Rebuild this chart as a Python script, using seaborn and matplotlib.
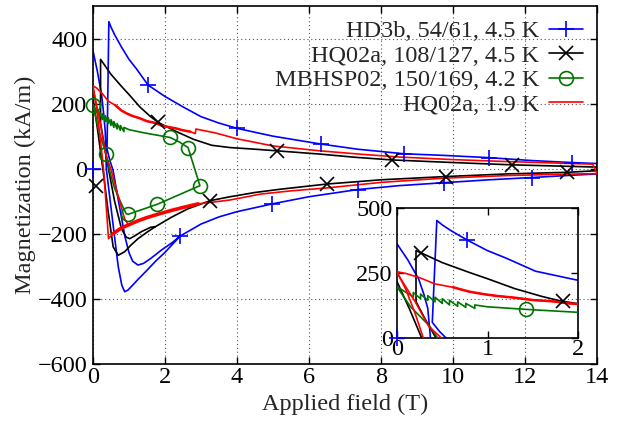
import matplotlib
matplotlib.use("Agg")
import matplotlib.pyplot as plt
from matplotlib.lines import Line2D
import seaborn as sns

# field in T, magnetization in kA/m

# HD3b, 54/61, 4.5 K : up ramp, return ramp with flux jump, second up ramp
hd3b_field = [0.00, 0.12, 0.24, 0.30, 0.34, 0.37, 0.55, 0.70, 0.80, 0.88, 0.97, 1.10, 1.25, 1.50, 1.73,
              2.00, 2.42, 3.00, 3.50, 4.00, 4.98, 6.00, 7.35, 8.50, 9.74, 11.0, 12.2, 13.3, 14.0,
              14.0, 13.3, 12.2, 11.0, 9.74, 8.63, 7.35, 6.32, 5.00, 4.00, 3.48, 3.00, 2.50, 2.00, 1.53,
              1.20, 1.00, 0.79, 0.60, 0.50, 0.44,
              0.39, 0.47, 0.56, 0.70, 0.89, 1.00, 1.10, 1.25, 1.40, 1.60, 1.90, 2.20, 2.42]
hd3b_mag = [362, 300, 226, 165, 114, 0, -165, -300, -358, -378, -373, -358, -340, -312, -285,
            -257, -207, -170, -148, -132, -108, -86, -64, -52, -43, -34, -27, -20, -16,
            16, 19, 25, 34, 41, 46, 60, 76, 100, 124, 141, 160, 190, 222, 257,
            308, 336, 374, 412, 435, 452,
            60, 25, -6, -95, -210, -258, -284, -296, -291, -276, -250, -227, -207]

# HQ02a, 108/127, 4.5 K
hq45_field = [0.00, 0.14, 0.28, 0.42, 0.56, 0.70, 0.88, 1.05, 1.25, 1.50, 1.72, 2.18, 2.64, 3.26,
              3.81, 4.50, 5.20, 6.50, 8.00, 9.80, 11.5, 13.18, 14.0,
              14.0, 13.0, 11.63, 10.0, 8.31, 7.30, 6.30, 5.11, 4.50, 3.81, 3.30, 2.80, 2.30, 1.80,
              1.60, 1.30, 1.00, 0.80, 0.50, 0.30, 0.21,
              0.21, 0.30, 0.44, 0.60, 0.79, 0.92, 1.02, 1.15, 1.35, 1.60, 1.72]
hq45_mag = [217, 110, -6, -130, -240, -266, -255, -235, -215, -195, -179, -149, -123, -98,
            -86, -73, -63, -47, -34, -24, -16, -11, -6,
            5, 8, 12, 19, 27, 35, 45, 55, 60, 65, 72, 90, 115, 143,
            160, 190, 228, 252, 290, 322, 336,
            140, 80, -6, -100, -184, -210, -215, -207, -193, -180, -178]

# MBHSP02, 150/169, 4.2 K (loop to 3 T, flux jumps on the way down)
mbhsp_field = [0.00, 0.15, 0.36, 0.46, 0.60, 0.79, 0.92, 0.98, 1.79, 2.97, 2.64, 2.40, 2.14, 1.43, 1.00,
               0.86, 0.86, 0.76, 0.76, 0.67, 0.67, 0.58, 0.58, 0.50, 0.50, 0.42, 0.42,
               0.34, 0.34, 0.26, 0.26, 0.18, 0.18, 0.08, 0.00]
mbhsp_mag = [197, 120, 46, -6, -60, -108, -138, -140, -109, -52, 65, 82, 96, 110, 120,
             127, 114, 133, 118, 139, 122, 145, 127, 151, 133, 157, 139,
             163, 145, 169, 151, 175, 158, 180, 197]

# HQ02a, 1.9 K
hq19_field = [0.00, 0.10, 0.20, 0.30, 0.37, 0.43,
              0.55, 0.79, 1.00, 1.25, 1.50, 1.80, 2.18, 2.50, 2.92,
              3.30, 3.81, 4.65, 5.50, 6.50, 8.00, 9.74, 11.5, 13.0, 14.0,
              13.88, 13.0, 11.5, 10.0, 8.50, 7.50, 6.30, 5.00, 4.00, 3.40, 2.86,
              2.84, 2.70, 2.50, 2.30, 2.10, 1.90, 1.72, 1.50, 1.30, 1.10, 0.97, 0.80, 0.62,
              0.42, 0.25, 0.10, 0.00]
hq19_mag = [255, 185, 95, -10, -120, -215,
            -200, -182, -172, -160, -150, -140, -128, -119, -108,
            -103, -96, -78, -68, -59, -42, -29, -21, -17, -15,
            14, 17, 22, 28, 36, 44, 55, 70, 92, 110, 122,
            108, 114, 118, 124, 128, 133, 141, 146, 155, 162, 168, 178, 195,
            208, 232, 248, 255]
hq19_inner_field = [0.00, 0.20, 0.35, 0.51, 0.70, 0.88, 0.96]
hq19_inner_mag = [250, 140, 45, -6, -85, -155, -168]

# symbols drawn on the main plot
hd3b_pts_field = [0.0, 1.53, 4.0, 6.32, 8.63, 11.0, 13.3, 2.42, 4.98, 7.35, 9.74, 12.2]
hd3b_pts_mag = [0, 257, 124, 76, 46, 34, 19, -207, -108, -64, -43, -27]
hq45_pts_field = [0.07, 1.80, 5.11, 8.31, 11.63, 3.26, 6.50, 9.80, 13.18]
hq45_pts_mag = [-53, 143, 55, 27, 12, -98, -47, -24, -11]
mbhsp_pts_field = [0.0, 0.36, 0.98, 1.79, 2.97, 2.64, 2.14]
mbhsp_pts_mag = [197, 46, -140, -109, -52, 65, 96]

# symbols drawn in the inset
hd3b_in_field, hd3b_in_mag = [0.0, 0.77], [0, 377]
hq45_in_field, hq45_in_mag = [0.27, 1.83], [326, 142]
mbhsp_in_field, mbhsp_in_mag = [1.43], [110]

labels = ['HD3b, 54/61, 4.5 K', 'HQ02a, 108/127, 4.5 K',
          'MBHSP02, 150/169, 4.2 K', 'HQ02a, 1.9 K']
BLUE, BLACK, GREEN, RED = '#0000ff', '#000000', '#007400', '#ff0000'

sns.set_theme(style="ticks")
plt.rcParams['font.family'] = ['Liberation Serif', 'DejaVu Serif']
fs = 17.5
lw = 1.2


def curve(a, x, y, color, width=lw, z=2):
    sns.lineplot(x=x, y=y, sort=False, estimator=None, color=color, lw=width,
                 ax=a, legend=False, zorder=z)


def symbols(a, x, y, color, marker, ms, mew=1.2):
    sns.lineplot(x=x, y=y, sort=False, estimator=None, ax=a, legend=False,
                 linestyle='none', marker=marker, markersize=ms, color=color,
                 markeredgecolor=color, markerfacecolor='none',
                 markeredgewidth=mew, clip_on=False, zorder=6)


def draw_all(a, main=True):
    curve(a, hd3b_field, hd3b_mag, BLUE, z=2)
    curve(a, hq45_field, hq45_mag, BLACK, z=3)
    curve(a, mbhsp_field, mbhsp_mag, GREEN, z=4)
    curve(a, hq19_field, hq19_mag, RED, z=5)
    curve(a, hq19_inner_field, hq19_inner_mag, RED, z=5)
    # noisy stretches of the 1.9 K trace
    curve(a, hq19_field[6:15], hq19_mag[6:15], RED, width=2.6, z=5)
    curve(a, hq19_field[37:49], hq19_mag[37:49], RED, width=1.8, z=5)
    if main:
        symbols(a, hd3b_pts_field, hd3b_pts_mag, BLUE, '+', 12)
        symbols(a, hq45_pts_field, hq45_pts_mag, BLACK, 'x', 10)
        symbols(a, mbhsp_pts_field, mbhsp_pts_mag, GREEN, 'o', 10)
    else:
        symbols(a, hd3b_in_field, hd3b_in_mag, BLUE, '+', 12)
        symbols(a, hq45_in_field, hq45_in_mag, BLACK, 'x', 10)
        symbols(a, mbhsp_in_field, mbhsp_in_mag, GREEN, 'o', 10)


def frame(a):
    for s in a.spines.values():
        s.set_color('black')
        s.set_linewidth(1.2)
    a.tick_params(direction='in', length=5, width=1, top=True, right=True,
                  labelsize=fs, colors='black')


fig = plt.figure(figsize=(6.27, 4.21), dpi=100)
ax = fig.add_axes([93 / 627, 1 - 364 / 421, 504 / 627, 358 / 421])
draw_all(ax, main=True)
ax.set_xlim(0, 14)
ax.set_ylim(-600, 500)
ax.set_xticks(range(0, 15, 2))
ax.set_yticks(range(-600, 401, 200))
ax.grid(True, color='#555555', ls=(0, (1, 2.5)), lw=0.8)
frame(ax)
ax.tick_params(axis='x', pad=2)
ax.tick_params(axis='y', pad=4)
ax.set_xlabel('Applied field (T)', fontsize=fs, labelpad=4)
ax.set_ylabel('Magnetization (kA/m)', fontsize=fs, labelpad=1)

handles = [
    Line2D([], [], color=BLUE, lw=lw, marker='+', ms=12, mew=1.2),
    Line2D([], [], color=BLACK, lw=lw, marker='x', ms=10, mew=1.2),
    Line2D([], [], color=GREEN, lw=lw, marker='o', ms=10, mew=1.2, mfc='none'),
    Line2D([], [], color=RED, lw=lw),
]
ax.legend(handles, labels, loc='upper right', bbox_to_anchor=(0.972, 0.96),
          frameon=False, markerfirst=False, fontsize=fs, handlelength=1.4,
          handletextpad=0.4, labelspacing=0.1, borderpad=0, borderaxespad=0)

axin = fig.add_axes([397 / 627, 1 - 338 / 421, 181 / 627, 130 / 421])
axin.set_facecolor('none')
draw_all(axin, main=False)
axin.set_xlim(0, 2)
axin.set_ylim(0, 500)
axin.set_xticks([0, 1, 2])
axin.set_yticks([0, 250, 500])
axin.set_xlabel('')
axin.set_ylabel('')
frame(axin)
axin.tick_params(axis='x', pad=1)
axin.tick_params(axis='y', pad=3)

fig.savefig('out.png', dpi=100)
